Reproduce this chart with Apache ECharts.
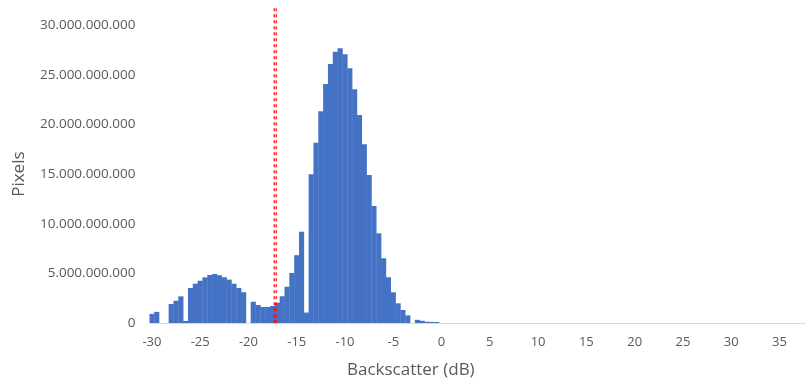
<!DOCTYPE html>
<html>
<head>
<meta charset="utf-8">
<script src="https://cdn.jsdelivr.net/npm/echarts@6/dist/echarts.min.js"></script>
<style>
html,body{margin:0;padding:0;background:#fff;}
#chart{width:806px;height:387px;}
</style>
</head>
<body>
<div id="chart"></div>
<script>
// ---- data ----
// bin centres in dB (0.5 dB bins, -30 .. 37.5)
const binStart = -30;
const binStep = 0.5;
const binCount = 136;
const categories = [];
for (let i = 0; i < binCount; i++) categories.push(String(binStart + i * binStep));

// pixel counts (billions), bins -30 .. (rest zero)
const countsBillions = [
  0.95, 1.15, 0, 0, 1.94, 2.27, 2.71, 0.23, 3.55, 3.98,
  4.28, 4.62, 4.86, 4.96, 4.83, 4.63, 4.39, 3.98, 3.55, 3.12,
  0, 2.17, 1.84, 1.64, 1.64, 1.74, 2.07, 2.72, 3.68, 5.06,
  6.85, 9.21, 1.08, 14.99, 18.16, 21.32, 24.07, 26.08, 27.32, 27.66,
  27.05, 25.65, 23.53, 20.95, 18.0, 14.92, 11.8, 9.05, 6.54, 4.63,
  3.12, 2.01, 1.34, 0.8, 0, 0.35, 0.25, 0.15, 0.14, 0.13
];
const pixelCounts = categories.map((c, i) => (countsBillions[i] || 0) * 1e9);

// threshold line (dB)
const thresholdDb = -17.23;
const thresholdTop = 31.7e9;

const yTicks = [0, 5e9, 10e9, 15e9, 20e9, 25e9, 30e9];

// ---- chart ----
const chart = echarts.init(document.getElementById('chart'), null, {renderer: 'canvas'});
const fmt = v => String(Math.round(v)).replace(/\B(?=(\d{3})+(?!\d))/g, '.');
const FONT = "'Open Sans', 'Noto Sans', sans-serif";
const binPx = 4.84;
const gridLeft = 149.5, gridTop = 25, gridHeight = 298.3;
const halfGap = 0.103;

const lineSeries = (x) => ({
  type: 'line',
  xAxisIndex: 1,
  yAxisIndex: 0,
  data: [[x, 0], [x, thresholdTop]],
  symbol: 'none',
  clip: false,
  silent: true,
  lineStyle: {color: '#ff0000', width: 1.2, type: [3, 3]},
  z: 5
});

chart.setOption({
  animation: false,
  backgroundColor: '#ffffff',
  grid: {left: gridLeft, top: gridTop, width: binCount * binPx, height: gridHeight, containLabel: false},
  xAxis: [
    {
      type: 'category',
      data: categories,
      boundaryGap: true,
      axisLine: {show: true, lineStyle: {color: '#d9d9d9', width: 1}},
      axisTick: {show: false},
      axisLabel: {interval: 9, color: '#595959', fontFamily: FONT, fontSize: 13, margin: 12},
      splitLine: {show: false},
      z: 3
    },
    {
      type: 'value',
      show: false,
      min: binStart - binStep / 2,
      max: binStart - binStep / 2 + binCount * binStep
    }
  ],
  yAxis: {
    type: 'value',
    min: yTicks[0],
    max: yTicks[yTicks.length - 1],
    interval: yTicks[1] - yTicks[0],
    axisLine: {show: false},
    axisTick: {show: false},
    splitLine: {show: false},
    axisLabel: {color: '#595959', fontFamily: FONT, fontSize: 13.5, margin: 14, formatter: fmt},
    name: 'Pixels',
    nameLocation: 'middle',
    nameGap: 122,
    nameTextStyle: {color: '#595959', fontFamily: FONT, fontSize: 17}
  },
  graphic: [{
    type: 'text',
    left: 413 - 66,
    top: 362,
    style: {text: 'Backscatter (dB)', fill: '#595959', font: "17px 'Open Sans', 'Noto Sans', sans-serif"}
  }],
  series: [
    {
      type: 'bar',
      data: pixelCounts,
      barWidth: '107%',
      itemStyle: {color: '#4472c4'},
      silent: true
    },
    lineSeries(thresholdDb - halfGap),
    lineSeries(thresholdDb + halfGap)
  ]
});
</script>
</body>
</html>
